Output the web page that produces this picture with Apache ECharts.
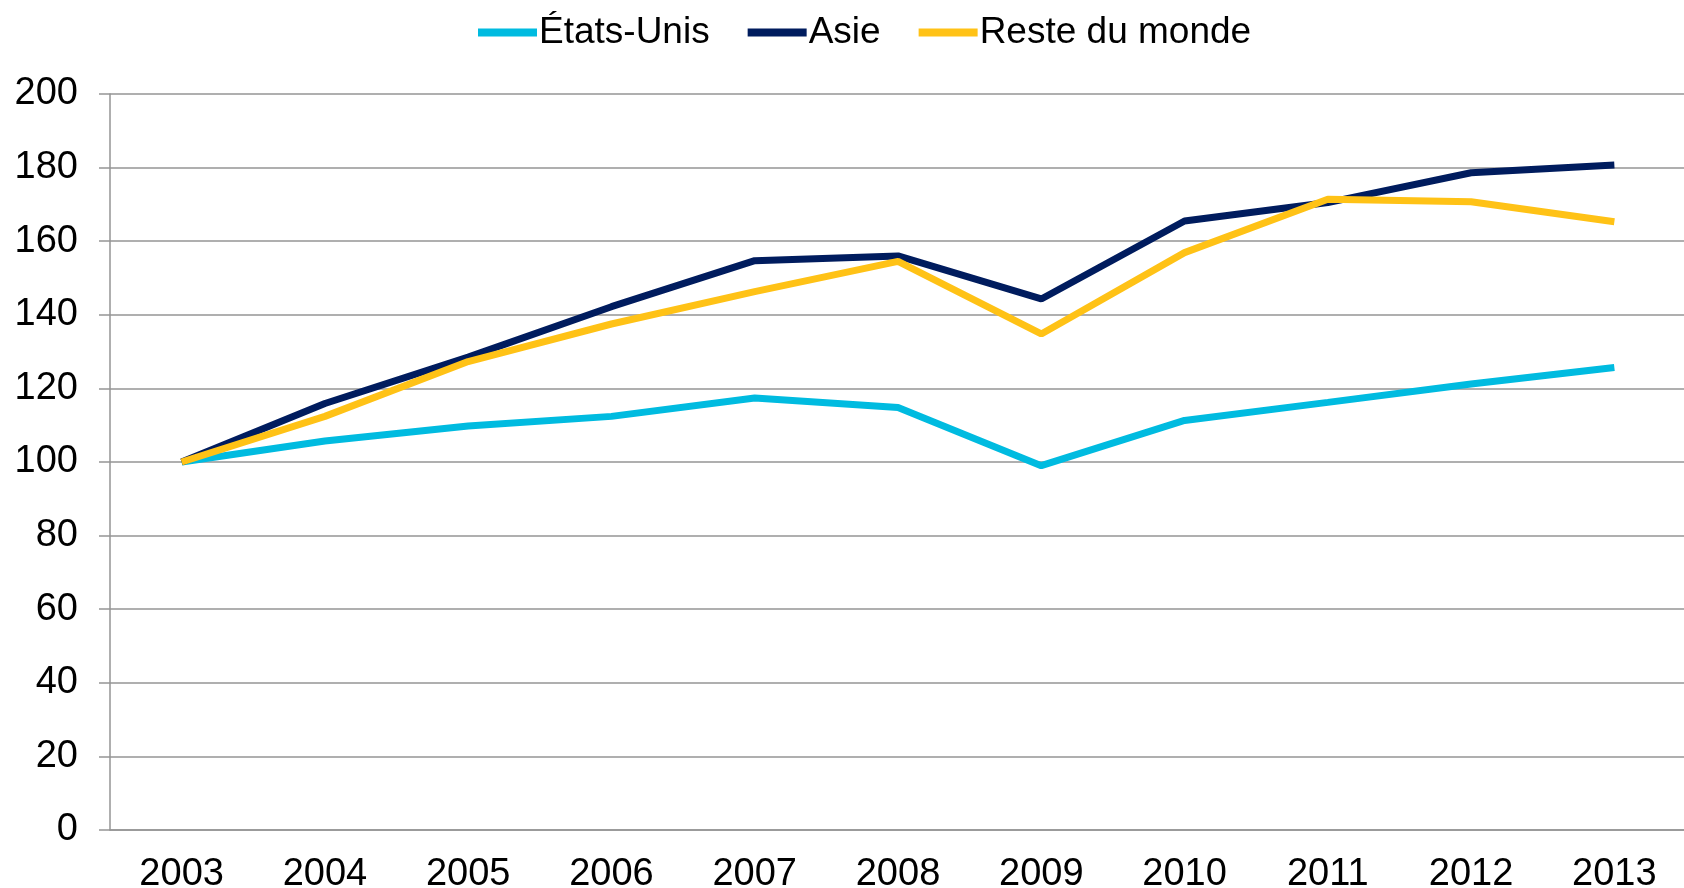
<!DOCTYPE html>
<html>
<head>
<meta charset="utf-8">
<script src="https://cdn.jsdelivr.net/npm/echarts@6/dist/echarts.min.js"></script>
<style>
  html, body { margin: 0; padding: 0; background: #fff; }
  #main { width: 1684px; height: 888px; }
</style>
</head>
<body>
<div id="main"></div>
<script>
// années
const years = ['2003', '2004', '2005', '2006', '2007', '2008', '2009', '2010', '2011', '2012', '2013'];
// indices (base 100 en 2003)
const etatsUnis = [100, 105.7, 109.8, 112.4, 117.4, 114.8, 99.0, 111.3, 116.2, 121.2, 125.7];
const asie = [100, 115.9, 128.5, 142.2, 154.7, 156.0, 144.3, 165.5, 170.5, 178.6, 180.7];
const resteMonde = [100, 112.4, 127.3, 137.5, 146.3, 154.5, 134.8, 156.9, 171.4, 170.7, 165.3];

const font = '"Liberation Sans", Arial, sans-serif';
const gridGray = '#959595';

const chart = echarts.init(document.getElementById('main'));

function line(name, data, color) {
  return {
    name: name,
    type: 'line',
    data: data,
    symbol: 'none',
    smooth: false,
    color: color,
    lineStyle: { color: color, width: 7 }
  };
}

chart.setOption({
  animation: false,
  backgroundColor: '#fff',
  legend: {
    top: 9,
    left: 473,
    icon: 'rect',
    itemWidth: 59,
    itemHeight: 8,
    itemGap: 38,
    textStyle: { fontFamily: font, fontSize: 37, color: '#000', lineHeight: 37, padding: [0, 0, 0, -3] },
    data: ['États-Unis', 'Asie', 'Reste du monde']
  },
  grid: { left: 110, right: -2, top: 94, bottom: 58, outerBoundsMode: 'none', containLabel: false },
  xAxis: {
    type: 'category',
    data: years,
    boundaryGap: true,
    axisLine: { lineStyle: { color: gridGray, width: 1.5 } },
    axisTick: { alignWithLabel: true, length: 8, lineStyle: { color: gridGray, width: 1.5 } },
    axisLabel: { fontFamily: font, fontSize: 38, color: '#000', margin: 26 }
  },
  yAxis: {
    type: 'value',
    min: 0,
    max: 200,
    interval: 20,
    axisLine: { show: true, lineStyle: { color: gridGray, width: 1.5 } },
    axisTick: { show: true, length: 11, lineStyle: { color: gridGray, width: 1.5 } },
    axisLabel: { fontFamily: font, fontSize: 38, color: '#000', margin: 32 },
    splitLine: { lineStyle: { color: gridGray, width: 1.5 } }
  },
  series: [
    line('États-Unis', etatsUnis, '#00BBE0'),
    line('Asie', asie, '#001C5E'),
    line('Reste du monde', resteMonde, '#FFC216')
  ]
});
</script>
</body>
</html>
